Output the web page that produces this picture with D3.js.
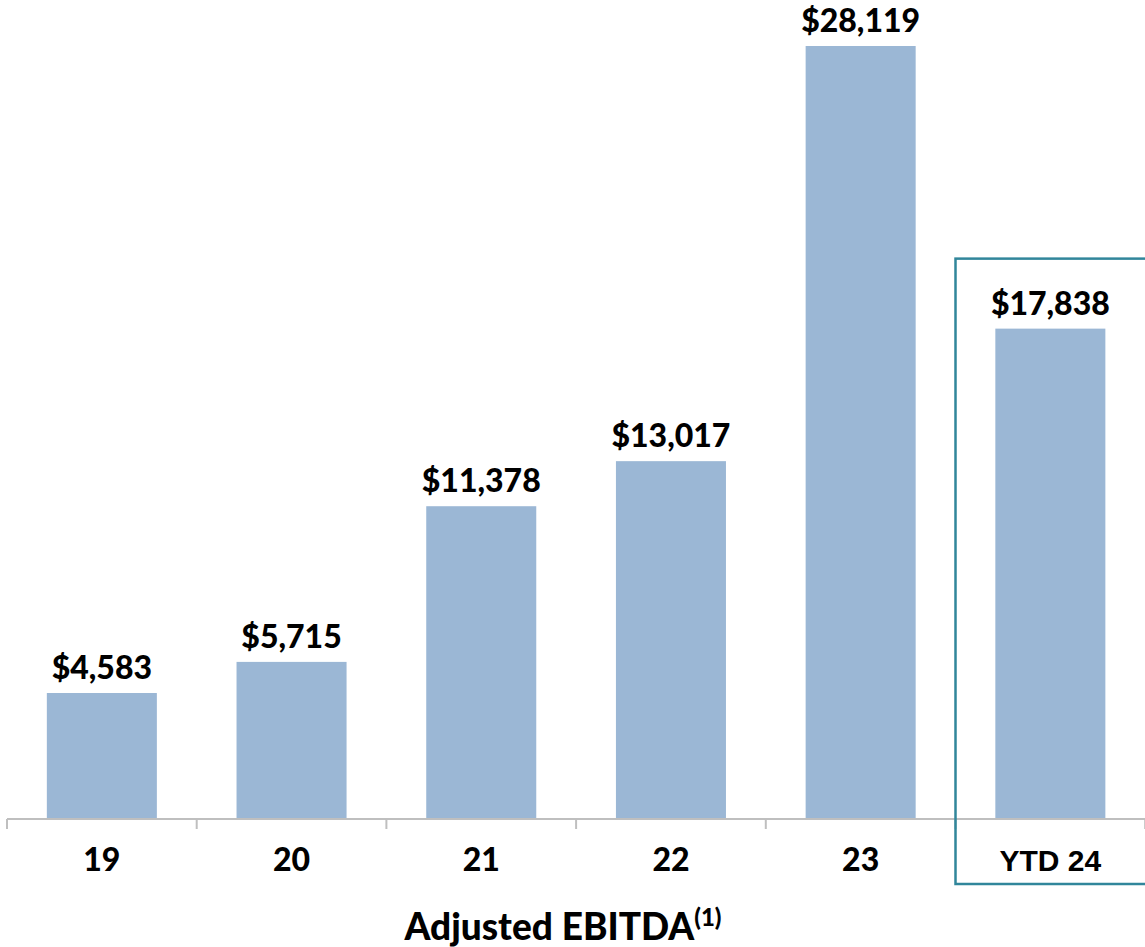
<!DOCTYPE html>
<html><head><meta charset="utf-8">
<script src="https://cdn.jsdelivr.net/npm/d3@7/dist/d3.min.js"></script>
<style>html,body{margin:0;padding:0;background:#fff;}</style>
</head><body>
<svg id="chart" width="1145" height="947"></svg>
<script>
const categories = ["19", "20", "21", "22", "23", "YTD 24"];
const values = [4583, 5715, 11378, 13017, 28119, 17838];
const valueLabels = ["$4,583", "$5,715", "$11,378", "$13,017", "$28,119", "$17,838"];
const title = "Adjusted EBITDA";
const titleSup = "(1)";
const highlighted = "YTD 24";

(function () {
const svg = d3.select("#chart");
const left = 7, right = 7 + 6 * 189.7, base = 819, plotTop = 46;
const x = d3.scaleBand().domain(categories).range([left, right]).paddingInner(0.42).paddingOuter(0.21);
const y = d3.scaleLinear().domain([0, d3.max(values)]).range([base, plotTop]);

const font = "'Century Gothic', 'Lato', 'Open Sans', sans-serif";

// bars
svg.selectAll("rect.bar").data(values).join("rect")
  .attr("class", "bar")
  .attr("x", (d, i) => x(categories[i]))
  .attr("width", x.bandwidth())
  .attr("y", d => y(d))
  .attr("height", d => base - y(d))
  .attr("fill", "#9bb7d5");

// axis
const step = x.step();
svg.append("line").attr("x1", left).attr("x2", right + 5).attr("y1", base).attr("y2", base)
  .attr("stroke", "#bfbfbf").attr("stroke-width", 2);
const tickPos = d3.range(categories.length + 1).map(i => left + i * step);
svg.selectAll("line.tick").data(tickPos).join("line").attr("class", "tick")
  .attr("x1", d => d).attr("x2", d => d).attr("y1", base).attr("y2", base + 10)
  .attr("stroke", "#bfbfbf").attr("stroke-width", 2);

// value labels
svg.selectAll("text.val").data(values).join("text").attr("class", "val")
  .attr("x", (d, i) => x(categories[i]) + x.bandwidth() / 2)
  .attr("y", d => y(d) - 14)
  .attr("text-anchor", "middle")
  .attr("font-family", font).attr("font-weight", "900").attr("font-size", 32)
  .attr("fill", "#000")
  .text((d, i) => valueLabels[i]);

// category labels
svg.selectAll("text.cat").data(categories).join("text").attr("class", "cat")
  .attr("x", d => x(d) + x.bandwidth() / 2)
  .attr("y", 871)
  .attr("text-anchor", "middle")
  .attr("font-family", d => d === highlighted ? "'Liberation Sans', Arial, sans-serif" : font)
  .attr("font-weight", d => d === highlighted ? "bold" : "900").attr("font-size", d => d === highlighted ? 30 : 32)
  .attr("fill", "#000")
  .text(d => d);

// highlight box
const hi = categories.indexOf(highlighted);
const boxL = left + hi * step;
svg.append("rect")
  .attr("x", boxL).attr("y", y(values[hi]) - 70)
  .attr("width", step + 20).attr("height", 884 - (y(values[hi]) - 70))
  .attr("fill", "none").attr("stroke", "#31869b").attr("stroke-width", 2.5);

// title
const t = svg.append("text").attr("x", 563).attr("y", 940).attr("text-anchor", "middle")
  .attr("font-family", font).attr("font-weight", "900").attr("font-size", 37).attr("fill", "#000");
t.append("tspan").text(title);
t.append("tspan").attr("font-size", 24).attr("dy", -14).text(titleSup);
})();
</script>
</body></html>
